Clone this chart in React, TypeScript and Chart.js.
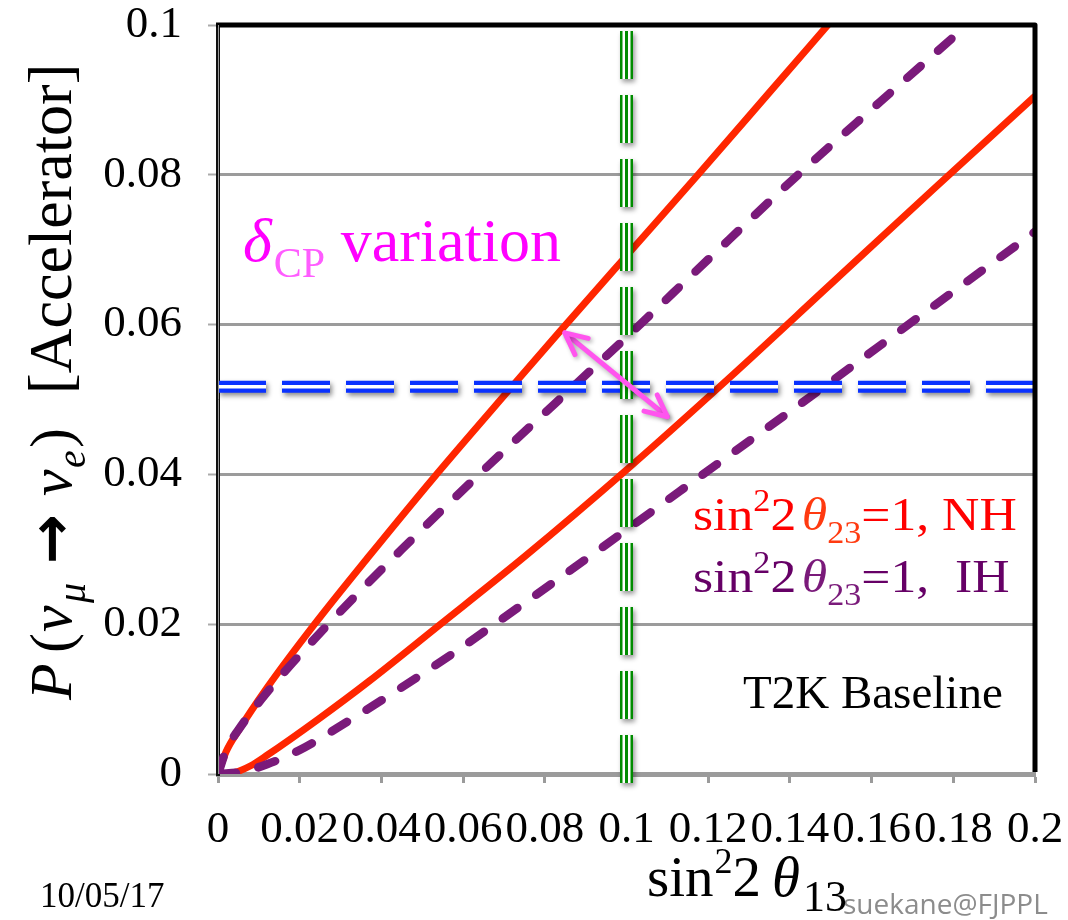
import React, { useEffect, useRef } from "react";
import { Chart, registerables } from "chart.js";

Chart.register(...registerables);

// ---------- data ----------
const xTickLabels = ["0", "0.02", "0.04", "0.06", "0.08", "0.1", "0.12", "0.14", "0.16", "0.18", "0.2"];
const yTickLabels = ["0", "0.02", "0.04", "0.06", "0.08", "0.1"];

// NH (solid red), two delta_CP extremes
const nhUpperX = [0, 0.002, 0.005, 0.012, 0.0235, 0.037, 0.0527, 0.0716, 0.0837, 0.1, 0.1175, 0.135, 0.1493];
const nhUpperY = [0, 0.003, 0.0058, 0.0115, 0.0199, 0.0291, 0.0395, 0.0515, 0.0591, 0.0692, 0.08, 0.091, 0.1];
const nhLowerX = [0, 0.004, 0.008, 0.012, 0.0245, 0.037, 0.054, 0.075, 0.1, 0.125, 0.15, 0.175, 0.2];
const nhLowerY = [0, 0.0002, 0.0011, 0.0025, 0.0073, 0.0124, 0.0198, 0.029, 0.0406, 0.0528, 0.0654, 0.078, 0.0905];

// IH (dashed purple)
const ihUpperX = [0, 0.002, 0.005, 0.012, 0.027, 0.045, 0.0645, 0.0879, 0.1, 0.12, 0.142, 0.162, 0.1834];
const ihUpperY = [0, 0.0032, 0.0059, 0.0109, 0.02, 0.03, 0.0403, 0.0522, 0.0583, 0.0687, 0.08, 0.0897, 0.1];
const ihLowerX = [0, 0.006, 0.012, 0.02, 0.032, 0.0445, 0.057, 0.069, 0.085, 0.1, 0.122, 0.1486, 0.171, 0.2];
const ihLowerY = [0, 0.0003, 0.0013, 0.0032, 0.0071, 0.0114, 0.0159, 0.0205, 0.0267, 0.0326, 0.0413, 0.0518, 0.0608, 0.0724];

// measured probability (blue) and sin^2 2theta13 (green) guide lines
const measuredX = [0, 0.2];
const measuredY = [0.0517, 0.0517];
const theta13X = [0.1, 0.1];
const theta13Y = [-0.0012, 0.1];

// delta_CP variation arrow
const arrowX = [0.0849, 0.11];
const arrowY = [0.0589, 0.0477];

// ---------- helpers ----------
const pts = (xs: number[], ys: number[]) => xs.map((x, i) => ({ x, y: ys[i] }));
const SERIF = '"Liberation Serif"';
const f = (size: number, style = "") => `${style} ${size}px ${SERIF}`.trim();

type Run = { t: string; font: string; color: string; dy?: number; dx?: number; at?: number };

function drawRuns(ctx: CanvasRenderingContext2D, runs: Run[]) {
  let cx = 0;
  for (const r of runs) {
    ctx.font = r.font;
    ctx.fillStyle = r.color;
    if (r.at !== undefined) cx = r.at;
    cx += r.dx || 0;
    ctx.fillText(r.t, cx, r.dy || 0);
    cx += ctx.measureText(r.t).width;
  }
}

const shadowPlugin = {
  id: "shadowPlugin",
  beforeDatasetDraw(chart: any, args: any) {
    const ds = chart.data.datasets[args.index];
    if (ds.shadow) {
      const c = chart.ctx;
      c.save();
      c.shadowColor = ds.shadow;
      c.shadowBlur = 5;
      c.shadowOffsetX = 2;
      c.shadowOffsetY = 3;
    }
  },
  afterDatasetDraw(chart: any, args: any) {
    const ds = chart.data.datasets[args.index];
    if (ds.shadow) chart.ctx.restore();
  },
};

const decorPlugin = {
  id: "decorPlugin",
  afterDatasetsDraw(chart: any) {
    const ctx: CanvasRenderingContext2D = chart.ctx;
    const xs = chart.scales.x;
    const ys = chart.scales.y;
    const a = chart.chartArea;
    // arrow heads
    const p0 = { x: xs.getPixelForValue(arrowX[0]), y: ys.getPixelForValue(arrowY[0]) };
    const p1 = { x: xs.getPixelForValue(arrowX[1]), y: ys.getPixelForValue(arrowY[1]) };
    ctx.save();
    ctx.strokeStyle = "#ff55ee";
    ctx.lineWidth = 5;
    ctx.lineCap = "round";
    ctx.lineJoin = "round";
    ctx.shadowColor = "rgba(0,0,0,0.3)";
    ctx.shadowBlur = 4;
    ctx.shadowOffsetX = 2;
    ctx.shadowOffsetY = 2;
    const head = (tip: any, from: any) => {
      const ang = Math.atan2(tip.y - from.y, tip.x - from.x);
      const L = 24;
      ctx.beginPath();
      ctx.moveTo(tip.x - L * Math.cos(ang - 0.45), tip.y - L * Math.sin(ang - 0.45));
      ctx.lineTo(tip.x, tip.y);
      ctx.lineTo(tip.x - L * Math.cos(ang + 0.45), tip.y - L * Math.sin(ang + 0.45));
      ctx.stroke();
    };
    head(p0, p1);
    head(p1, p0);
    ctx.restore();

    // frame: top and right black borders
    ctx.save();
    ctx.strokeStyle = "#000";
    ctx.lineWidth = 5;
    ctx.lineJoin = "round";
    ctx.beginPath();
    ctx.moveTo(a.left - 2, a.top);
    ctx.lineTo(a.right, a.top);
    ctx.lineTo(a.right, a.bottom - 2);
    ctx.stroke();
    ctx.strokeStyle = "#999";
    ctx.lineWidth = 1;
    ctx.beginPath();
    ctx.moveTo(a.left + 0.5, a.top);
    ctx.lineTo(a.left + 0.5, a.bottom);
    ctx.stroke();
    ctx.restore();
  },
  afterDraw(chart: any) {
    const ctx: CanvasRenderingContext2D = chart.ctx;
    ctx.save();
    ctx.textAlign = "left";
    ctx.textBaseline = "alphabetic";

    // delta_CP variation
    ctx.save();
    ctx.translate(243, 261);
    drawRuns(ctx, [
      { t: "δ", font: f(62, "italic"), color: "#ff00ff" },
      { t: "CP", font: f(42), color: "#ff5cff", dy: 16, dx: 2 },
      { t: " variation", font: f(62), color: "#ff00ff" },
    ]);
    ctx.restore();

    // NH / IH labels
    const legendRuns = (col: string, thetaCol: string, tail: string): Run[] => [
      { t: "sin", font: f(47), color: col },
      { t: "2", font: f(31), color: col, dy: -19 },
      { t: "2", font: f(47), color: col },
      { t: "θ", font: f(47, "italic"), color: thetaCol, dx: 5 },
      { t: "23", font: f(31), color: thetaCol, dy: 13 },
      { t: "=1,", font: f(47), color: col },
      { t: tail, font: f(47), color: col },
    ];
    ctx.save();
    ctx.translate(693, 530);
    ctx.scale(1.1, 1);
    drawRuns(ctx, legendRuns("#ff0000", "#ff3a10", " NH"));
    ctx.restore();
    ctx.save();
    ctx.translate(693, 592);
    ctx.scale(1.1, 1);
    drawRuns(ctx, legendRuns("#660066", "#7a1a7a", "  IH"));
    ctx.restore();

    // T2K Baseline
    ctx.font = f(47);
    ctx.fillStyle = "#000";
    ctx.fillText("T2K Baseline", 743, 708);

    // date
    ctx.font = f(35);
    ctx.fillText("10/05/17", 40, 907);

    // author
    ctx.font = '28px "Open Sans"';
    ctx.fillStyle = "#8c8c8c";
    ctx.fillText("suekane@FJPPL", 843, 914);

    // x axis title
    ctx.save();
    ctx.translate(647, 896);
    drawRuns(ctx, [
      { t: "sin", font: f(57), color: "#000" },
      { t: "2", font: f(36), color: "#000", dy: -23, dx: 1 },
      { t: "2", font: f(57), color: "#000" },
      { t: "θ", font: f(57, "italic"), color: "#000", dx: 11 },
      { t: "13", font: f(44), color: "#000", dy: 15, dx: 3 },
    ]);
    ctx.restore();

    // y axis title (rotated); "at" = distance along the text from its start (y = 700)
    const yRuns: Run[] = [
      { t: "P", font: f(60, "italic"), color: "#000", at: 0 },
      { t: "(", font: f(60), color: "#000", at: 47 },
      { t: "ν", font: f(60, "italic"), color: "#000", at: 68 },
      { t: "μ", font: f(40, "italic"), color: "#000", dy: 14, at: 97 },
      { t: "→", font: 'bold 60px "DejaVu Sans"', color: "#000", at: 136 },
      { t: "ν", font: f(60, "italic"), color: "#000", at: 204 },
      { t: "e", font: f(40, "italic"), color: "#000", dy: 14, at: 232 },
      { t: ")", font: f(60), color: "#000", at: 252 },
      { t: "[Accelerator]", font: f(62), color: "#000", at: 306 },
    ];
    ctx.save();
    ctx.translate(71, 700);
    ctx.rotate(-Math.PI / 2);
    drawRuns(ctx, yRuns);
    ctx.restore();

    ctx.restore();
  },
};

export default function App() {
  const ref = useRef<HTMLCanvasElement | null>(null);

  useEffect(() => {
    if (!ref.current) return;
    const tickFont = { family: "Liberation Serif", size: 45, lineHeight: 1 };
    const lineBase = { pointRadius: 0, pointHoverRadius: 0, fill: false, tension: 0 };
    const curve = { ...lineBase, cubicInterpolationMode: "monotone" as const };
    const chart = new Chart(ref.current, {
      type: "line",
      data: {
        datasets: [
          { ...lineBase, data: pts(arrowX, arrowY), borderColor: "#ff55ee", borderWidth: 5, borderCapStyle: "round", order: 0, shadow: "rgba(0,0,0,0.3)" } as any,
          { ...lineBase, data: pts(theta13X, theta13Y), borderColor: "#008c00", borderWidth: 3, borderDash: [48, 16], order: 1, clip: false } as any,
          { ...lineBase, data: pts(theta13X, theta13Y), borderColor: "#ffffff", borderWidth: 8, borderDash: [48, 16], order: 2, clip: false } as any,
          { ...lineBase, data: pts(theta13X, theta13Y), borderColor: "#008c00", borderWidth: 13, borderDash: [48, 16], order: 3, clip: false, shadow: "rgba(0,0,0,0.4)" } as any,
          { ...lineBase, data: pts(measuredX, measuredY), borderColor: "#ffffff", borderWidth: 3.5, borderDash: [48, 16], order: 4 } as any,
          { ...lineBase, data: pts(measuredX, measuredY), borderColor: "#0a32ff", borderWidth: 12, borderDash: [48, 16], order: 5, shadow: "rgba(0,0,0,0.45)" } as any,
          { ...curve, data: pts(ihUpperX, ihUpperY), borderColor: "#7a1a7a", borderWidth: 8.5, borderDash: [18, 23], borderCapStyle: "round", order: 6 } as any,
          { ...curve, data: pts(ihLowerX, ihLowerY), borderColor: "#7a1a7a", borderWidth: 8.5, borderDash: [18, 23], borderCapStyle: "round", order: 7 } as any,
          { ...curve, data: pts(nhUpperX, nhUpperY), borderColor: "#ff2600", borderWidth: 7, order: 8 } as any,
          { ...curve, data: pts(nhLowerX, nhLowerY), borderColor: "#ff2600", borderWidth: 7, order: 9 } as any,
        ],
      },
      options: {
        responsive: false,
        animation: false,
        events: [],
        layout: { padding: { left: 0, right: 33, top: 25, bottom: 0 } },
        plugins: { legend: { display: false }, tooltip: { enabled: false }, title: { display: false } },
        scales: {
          x: {
            type: "linear",
            min: 0,
            max: 0.2,
            afterFit: (s: any) => {
              s.height = 146;
              s.paddingLeft = 0;
              s.paddingRight = 0;
            },
            ticks: {
              stepSize: 0.02,
              autoSkip: false,
              maxRotation: 0,
              minRotation: 0,
              padding: 25,
              color: "#000",
              font: tickFont,
              callback: (_v: any, i: number) => xTickLabels[i],
            },
            grid: { drawOnChartArea: false, drawTicks: true, tickLength: 9, tickWidth: 3, tickColor: "#9b9b9b" },
            border: { display: true, color: "#9b9b9b", width: 5 },
          },
          y: {
            type: "linear",
            min: 0,
            max: 0.1,
            afterFit: (s: any) => {
              s.width = 218;
              s.paddingTop = 0;
              s.paddingBottom = 0;
            },
            ticks: {
              stepSize: 0.02,
              autoSkip: false,
              padding: 26,
              color: "#000",
              font: tickFont,
              callback: (_v: any, i: number) => yTickLabels[i],
            },
            grid: { color: "#9b9b9b", lineWidth: 3, tickLength: 10, tickWidth: 2, tickColor: "#aaaaaa" },
            border: { display: true, color: "#111", width: 4 },
          },
        },
      } as any,
      plugins: [shadowPlugin, decorPlugin],
    });
    return () => chart.destroy();
  }, []);

  return (
    <div style={{ position: "fixed", left: 0, top: 0, width: 1068, height: 920, background: "#fff" }}>
      <canvas ref={ref} width={1068} height={920} style={{ display: "block" }} />
    </div>
  );
}
